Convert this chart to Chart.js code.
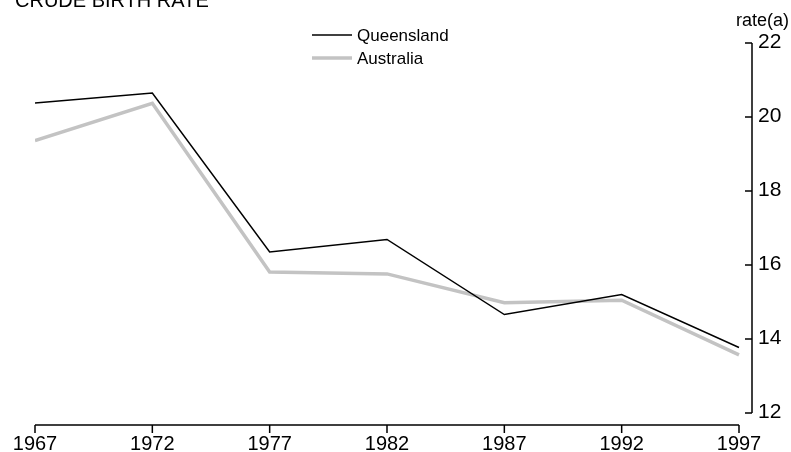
<!DOCTYPE html>
<html>
<head>
<title>Crude birth rate</title>
<script src="https://cdn.jsdelivr.net/npm/chart.js"></script>
<style>
  body { margin: 0; background: #fff; }
  #wrap { position: relative; width: 791px; height: 452px; }
</style>
</head>
<body>
<div id="wrap"><canvas id="birthChart" width="791" height="452"></canvas></div>
<script>
// values
const years = [1967, 1972, 1977, 1982, 1987, 1992, 1997];
const queensland = [20.38, 20.65, 16.35, 16.69, 14.66, 15.2, 13.77];
const australia = [19.36, 20.37, 15.81, 15.76, 14.98, 15.05, 13.57];
const yTicks = [12, 14, 16, 18, 20, 22];

const FONT = "'Liberation Sans', Arial, sans-serif";

// axes, ticks, title and legend drawn by hand, like the original
const decor = {
  id: 'decor',
  afterDraw(chart) {
    const ctx = chart.ctx;
    const x = chart.scales.x, y = chart.scales.y;
    const axisY = chart.chartArea.bottom + 12;
    const axisX = chart.chartArea.right;
    ctx.save();
    ctx.strokeStyle = '#000';
    ctx.lineWidth = 1.5;

    // x axis
    ctx.beginPath();
    ctx.moveTo(x.getPixelForValue(years[0]), axisY);
    ctx.lineTo(x.getPixelForValue(years[years.length - 1]), axisY);
    years.forEach(v => {
      const px = x.getPixelForValue(v);
      ctx.moveTo(px, axisY);
      ctx.lineTo(px, axisY + 8);
    });
    ctx.stroke();

    // y axis on the right, ticks pointing inward
    ctx.beginPath();
    ctx.moveTo(axisX, y.getPixelForValue(yTicks[yTicks.length - 1]));
    ctx.lineTo(axisX, y.getPixelForValue(yTicks[0]));
    yTicks.forEach(v => {
      const py = y.getPixelForValue(v);
      ctx.moveTo(axisX - 7, py);
      ctx.lineTo(axisX, py);
    });
    ctx.stroke();

    ctx.fillStyle = '#000';

    // tick labels
    ctx.font = '20px ' + FONT;
    ctx.textAlign = 'center';
    ctx.textBaseline = 'alphabetic';
    years.forEach(v => ctx.fillText(String(v), x.getPixelForValue(v), 450));
    ctx.font = '21px ' + FONT;
    ctx.textAlign = 'left';
    ctx.textBaseline = 'middle';
    yTicks.forEach(v => ctx.fillText(String(v), axisX + 6, y.getPixelForValue(v) - 1));

    ctx.font = '20px ' + FONT;
    ctx.textBaseline = 'alphabetic';
    ctx.fillText('CRUDE BIRTH RATE', 15, 7);

    ctx.font = '18px ' + FONT;
    ctx.textAlign = 'right';
    ctx.fillText('rate(a)', 789, 26);

    // legend
    ctx.textAlign = 'left';
    ctx.textBaseline = 'middle';
    ctx.font = '17px ' + FONT;
    chart.data.datasets.forEach((ds, i) => {
      const ly = 35 + i * 23;
      ctx.strokeStyle = ds.borderColor;
      ctx.lineWidth = ds.borderWidth;
      ctx.beginPath();
      ctx.moveTo(312, ly);
      ctx.lineTo(352, ly);
      ctx.stroke();
      ctx.fillText(ds.label, 357, ly + 1);
    });
    ctx.restore();
  }
};

new Chart(document.getElementById('birthChart'), {
  type: 'line',
  data: {
    datasets: [
      {
        label: 'Queensland',
        data: years.map((yr, i) => ({ x: yr, y: queensland[i] })),
        borderColor: '#000000',
        borderWidth: 1.5,
        pointRadius: 0,
        tension: 0
      },
      {
        label: 'Australia',
        data: years.map((yr, i) => ({ x: yr, y: australia[i] })),
        borderColor: '#c3c3c3',
        borderWidth: 3.5,
        pointRadius: 0,
        tension: 0
      }
    ]
  },
  options: {
    responsive: false,
    animation: false,
    layout: { padding: { top: 43, left: 35, right: 0, bottom: 0 } },
    plugins: {
      legend: { display: false },
      tooltip: { enabled: false }
    },
    scales: {
      x: {
        type: 'linear',
        min: years[0],
        max: 1997.554,
        grid: { display: false },
        border: { display: false },
        ticks: { display: false },
        afterFit: s => { s.height = 39; }
      },
      y: {
        position: 'right',
        min: 12,
        max: 22,
        grid: { display: false },
        border: { display: false },
        ticks: { display: false },
        afterFit: s => { s.width = 39; }
      }
    }
  },
  plugins: [decor]
});
</script>
</body>
</html>
